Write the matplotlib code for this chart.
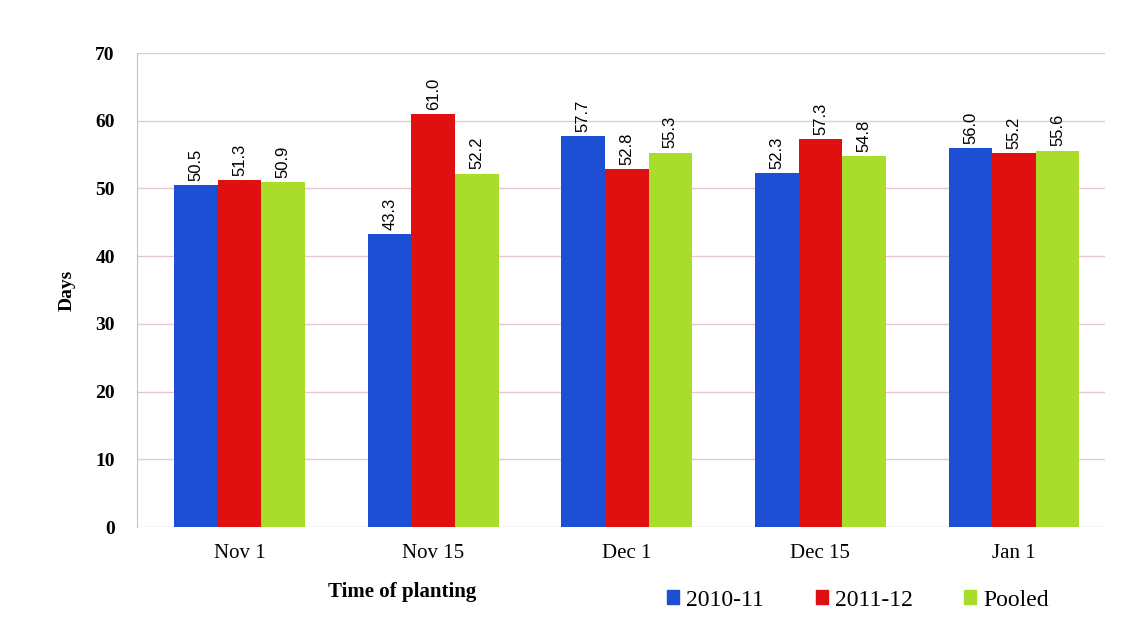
import numpy as np
import matplotlib.pyplot as plt
from matplotlib.patches import Patch

# Time of planting vs days
categories = ["Nov 1", "Nov 15", "Dec 1", "Dec 15", "Jan 1"]
series_names = ["2010-11", "2011-12", "Pooled"]
vals_2010 = [50.5, 43.3, 57.7, 52.3, 56.0]
vals_2011 = [51.3, 61.0, 52.8, 57.3, 55.2]
vals_pooled = [50.9, 52.2, 55.3, 54.8, 55.6]
colors = ["#1c4fd4", "#e01010", "#aadc2c"]

serif = ["Liberation Serif", "DejaVu Serif"]

fig = plt.figure(figsize=(11.21, 6.31), dpi=100)
ax = fig.add_axes([137 / 1121, 1 - 527 / 631, (1105 - 137) / 1121, (527 - 53) / 631])

x = np.arange(len(categories))
w = 0.225
for i, (vals, c) in enumerate(zip([vals_2010, vals_2011, vals_pooled], colors)):
    pos = x + (i - 1) * w
    ax.bar(pos, vals, width=w, color=c, zorder=3)
    for p, v in zip(pos, vals):
        ax.text(p, v + 0.6, f"{v:.1f}", rotation=90, ha="center", va="bottom",
                fontsize=12, family=["Liberation Sans", "DejaVu Sans"], zorder=4)

ax.set_ylim(0, 70)
ax.set_xlim(-0.53, 4.47)
ax.set_yticks(range(0, 71, 10))
ax.yaxis.grid(True, color="#e8c8cc", linewidth=1, zorder=0)
for s in ["top", "right", "bottom"]:
    ax.spines[s].set_visible(False)
ax.spines["left"].set_color("#d8b8bc")
ax.tick_params(axis="y", length=0, pad=16)
ax.tick_params(axis="x", length=0, pad=12)
ax.set_xticks(x)
ax.set_xticklabels(categories, family=serif, fontsize=15)
for lab in ax.get_yticklabels():
    lab.set_family(serif)
    lab.set_fontweight("bold")
    lab.set_fontsize(14)
ax.set_ylabel("Days", family=serif, fontweight="bold", fontsize=14, labelpad=14)

fig.text(402 / 1121, 1 - 592 / 631, "Time of planting", family=serif,
         fontweight="bold", fontsize=15, ha="center", va="center")

handles = [Patch(color=c) for c in colors]
leg = fig.legend(handles, series_names, loc="center", bbox_to_anchor=(858 / 1121, 1 - 600 / 631),
                 ncol=3, frameon=False, handlelength=0.5, handleheight=0.5,
                 handletextpad=0.3, columnspacing=2.2, prop={"family": serif, "size": 17})

fig.savefig("out.png", dpi=100)
